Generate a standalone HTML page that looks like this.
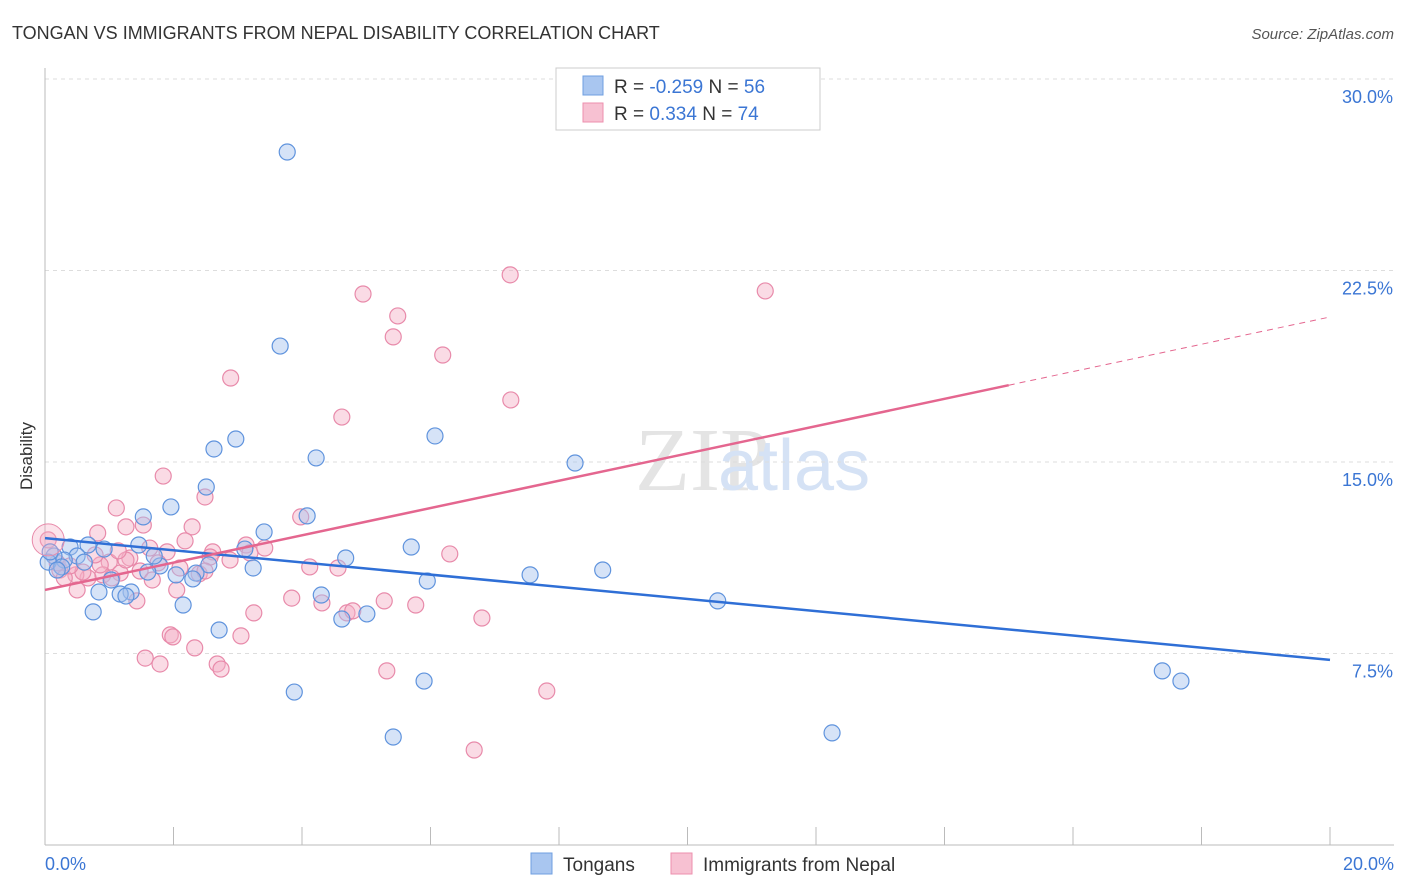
<!DOCTYPE html>
<html><head><meta charset="utf-8"><style>
body{margin:0;background:#fff;font-family:"Liberation Sans",sans-serif}
svg{display:block}
</style></head><body>
<svg id="chart" width="1406" height="892" xmlns="http://www.w3.org/2000/svg">
<text x="12" y="39" font-size="18" fill="#333">TONGAN VS IMMIGRANTS FROM NEPAL DISABILITY CORRELATION CHART</text>
<text x="1394" y="39" font-size="15" fill="#555" text-anchor="end" font-style="italic">Source: ZipAtlas.com</text>
<text x="635" y="490" font-size="90" fill="#e4e4e4" font-family="Liberation Serif,serif">ZIP</text>
<text x="718" y="490" font-size="72" fill="#d5e2f5">atlas</text>
<g id="grid"></g>
<g id="axes"></g>
<g id="pts"></g>
<g id="trends"></g>
<text x="32" y="456" font-size="17" fill="#333" text-anchor="middle" transform="rotate(-90 32 456)">Disability</text>
<text x="45" y="870" font-size="18" fill="#3b76d4">0.0%</text>
<text x="1394" y="870" font-size="18" fill="#3b76d4" text-anchor="end">20.0%</text>
<g>
<rect x="556" y="68" width="264" height="62" fill="#fff" stroke="#ccc"/>
<rect x="583" y="76" width="20" height="19" fill="#a9c6f0" stroke="#6f9fe0"/>
<rect x="583" y="103" width="20" height="19" fill="#f7c1d2" stroke="#ec8fae"/>
<text x="614" y="93" font-size="19" fill="#333">R = <tspan fill="#3b76d4">-0.259</tspan>   N = <tspan fill="#3b76d4">56</tspan></text>
<text x="614" y="120" font-size="19" fill="#333">R =  <tspan fill="#3b76d4">0.334</tspan>   N = <tspan fill="#3b76d4">74</tspan></text>
</g>
<g>
<rect x="531" y="853" width="21" height="21" fill="#a9c6f0" stroke="#6f9fe0"/>
<text x="563" y="871" font-size="19" fill="#333">Tongans</text>
<rect x="671" y="853" width="21" height="21" fill="#f7c1d2" stroke="#ec8fae"/>
<text x="703" y="871" font-size="19" fill="#333">Immigrants from Nepal</text>
</g>
</svg>
<script>
const yTicks=[7.5,15,22.5,30];
const yTickLabels=["7.5%","15.0%","22.5%","30.0%"];
const blueX=[3.77,3.66,2.97,2.63,6.07,4.22,8.25,2.51,1.96,1.53,4.08,3.41,3.11,5.70,4.68,5.95,7.55,8.68,3.24,2.55,2.35,2.04,1.79,1.60,1.70,1.46,0.92,0.67,0.39,0.50,0.30,0.14,0.05,0.26,0.61,1.03,1.34,1.17,0.84,1.26,0.75,2.15,2.30,4.30,5.01,4.62,2.71,10.47,3.88,5.90,5.42,12.25,17.39,17.68,0.08,0.19];
const blueY=[27.14,19.54,15.90,15.51,16.02,15.16,14.96,14.02,13.24,12.85,12.89,12.26,11.59,11.67,11.24,10.34,10.58,10.77,10.85,10.97,10.65,10.58,10.93,10.69,11.32,11.75,11.59,11.75,11.67,11.32,11.16,11.32,11.08,10.89,11.08,10.38,9.91,9.83,9.91,9.75,9.13,9.40,10.42,9.79,9.05,8.85,8.42,9.56,5.99,6.42,4.23,4.39,6.82,6.42,11.48,10.77];
const pinkX=[7.24,11.21,4.95,5.49,5.42,6.19,2.89,7.25,4.62,1.84,2.49,1.11,3.98,2.29,1.26,0.82,1.53,2.18,3.13,3.19,2.61,2.57,1.90,1.63,1.32,1.00,1.48,1.17,0.90,0.67,0.48,0.23,0.19,0.05,0.30,0.50,1.04,1.67,2.05,2.40,2.10,6.30,4.12,4.56,3.84,4.31,4.70,4.79,5.28,5.77,3.25,1.43,1.95,1.99,2.33,3.05,6.80,1.56,1.79,2.68,2.74,5.32,7.81,6.68,1.26,0.86,0.59,0.39,0.78,1.14,1.76,2.49,2.88,3.42];
const pinkY=[22.33,21.70,21.58,20.72,19.90,19.19,18.29,17.43,16.76,14.45,13.63,13.20,12.85,12.46,12.46,12.22,12.53,11.91,11.75,11.44,11.48,11.28,11.48,11.63,11.24,11.08,10.73,10.65,10.58,10.46,10.58,10.77,11.05,11.95,10.46,9.99,10.46,10.38,9.99,10.62,10.85,11.40,10.89,10.85,9.67,9.48,9.09,9.17,9.56,9.40,9.09,9.56,8.23,8.15,7.72,8.19,8.89,7.32,7.09,7.09,6.89,6.82,6.03,3.72,11.16,10.97,10.69,10.93,11.36,11.52,11.05,10.73,11.16,11.63];
const blueTrend=[12.02,7.25];
const pinkTrend=[9.99,20.68];
const pinkSolidEnd=15;
const NS="http://www.w3.org/2000/svg";
const X=v=>45+v/20*1285;
const Y=v=>845-v/7.5*191.5;
function mk(tag,attrs,parent){const e=document.createElementNS(NS,tag);for(const k in attrs)e.setAttribute(k,attrs[k]);document.getElementById(parent).appendChild(e);return e;}
yTicks.forEach((t,i)=>{
  const l=mk('line',{x1:45,x2:1394,y1:Y(t),y2:Y(t),stroke:'#ddd','stroke-dasharray':'4,4'},'grid');
  
  
  const tx=mk('text',{x:1393,y:Y(t)+24,'font-size':18,fill:'#3b76d4','text-anchor':'end'},'grid');
  tx.textContent=yTickLabels[i];
  
  
});
const ax=mk('line',{x1:45,x2:1394,y1:845,y2:845,stroke:'#bbb'},'axes');


const ay=mk('line',{x1:45,x2:45,y1:68,y2:845,stroke:'#bbb'},'axes');


for(let i=0;i<=10;i++){
  const t=mk('line',{x1:X(i*2),x2:X(i*2),y1:827,y2:845,stroke:'#bbb'},'axes');
  
  
}
function dots(xs,ys,fill,stroke,name){
  xs.forEach((x,i)=>{
    const c=mk('circle',{cx:X(x),cy:Y(ys[i]),r:8,fill:fill,'fill-opacity':0.45,stroke:stroke,'stroke-width':1.2},'pts');
    
    
  });
}
dots(pinkX,pinkY,'#f5b0c6','#e88aaa','nepal-point');
dots(blueX,blueY,'#a3c0ee','#5f93dd','tongan-point');
const big=mk('circle',{cx:X(pinkX[33]),cy:Y(pinkY[33]),r:16,fill:'#f5b0c6','fill-opacity':0.35,stroke:'#e88aaa'},'pts');


const bt=mk('line',{x1:X(0),y1:Y(blueTrend[0]),x2:X(20),y2:Y(blueTrend[1]),stroke:'#2f6fd6','stroke-width':2.5},'trends');


const py=x=>pinkTrend[0]+(pinkTrend[1]-pinkTrend[0])*x/20;
const ps=mk('line',{x1:X(0),y1:Y(py(0)),x2:X(pinkSolidEnd),y2:Y(py(pinkSolidEnd)),stroke:'#e4668f','stroke-width':2.5},'trends');


const pd=mk('line',{x1:X(pinkSolidEnd),y1:Y(py(pinkSolidEnd)),x2:X(20),y2:Y(py(20)),stroke:'#e4668f','stroke-width':1,'stroke-dasharray':'6,5'},'trends');


</script>
</body></html>
